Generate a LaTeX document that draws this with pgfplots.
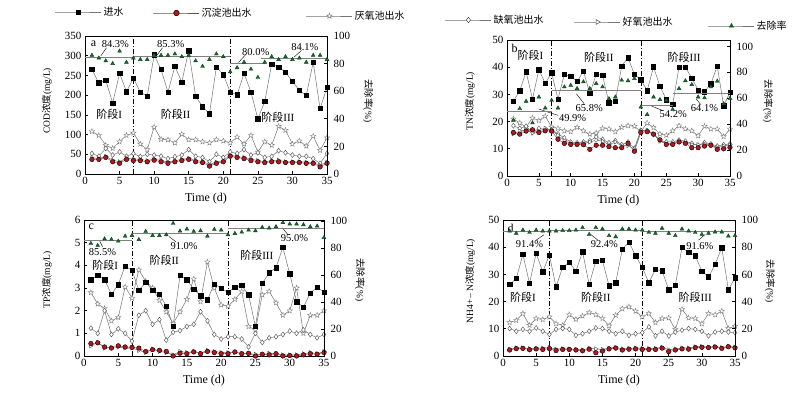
\documentclass[border=0pt]{standalone}
\usepackage{pgfplots}
\pgfplotsset{compat=1.18}
\usepackage{pgfplotstable}
\usepackage{fontspec}
\setmainfont{Liberation Serif}
\newfontfamily\cjk{Noto Sans CJK SC}

\pgfdeclareplotmark{ostar}{%
  \pgfpathmoveto{\pgfpointpolar{90}{\pgfplotmarksize}}%
  \pgfpathlineto{\pgfpointpolar{126}{0.42\pgfplotmarksize}}%
  \pgfpathlineto{\pgfpointpolar{162}{\pgfplotmarksize}}%
  \pgfpathlineto{\pgfpointpolar{198}{0.42\pgfplotmarksize}}%
  \pgfpathlineto{\pgfpointpolar{234}{\pgfplotmarksize}}%
  \pgfpathlineto{\pgfpointpolar{270}{0.42\pgfplotmarksize}}%
  \pgfpathlineto{\pgfpointpolar{306}{\pgfplotmarksize}}%
  \pgfpathlineto{\pgfpointpolar{342}{0.42\pgfplotmarksize}}%
  \pgfpathlineto{\pgfpointpolar{18}{\pgfplotmarksize}}%
  \pgfpathlineto{\pgfpointpolar{54}{0.42\pgfplotmarksize}}%
  \pgfpathclose
  \pgfusepathqfillstroke
}

\definecolor{lgray}{gray}{0.45}
\definecolor{dred}{RGB}{185,20,30}
\definecolor{dgreen}{RGB}{20,110,40}

\tikzset{
  ptr/.style={black, line width=0.4pt},
  tnote/.style={font=\fontsize{11}{12}\selectfont},
  pnote/.style={font=\fontsize{10.5}{11}\selectfont},
}

\pgfplotsset{
  infS/.style={lgray, line width=0.5pt, mark=square*, mark size=2.2pt, mark options={solid, black, fill=black}, forget plot},
  sedS/.style={lgray, line width=0.5pt, mark=*, mark size=2.3pt, mark options={solid, draw=black, fill=dred, line width=0.4pt}, forget plot},
  anaS/.style={lgray, line width=0.5pt, mark=ostar, mark size=2.8pt, mark options={solid, draw=gray, fill=white, line width=0.4pt}, forget plot},
  anxS/.style={lgray, line width=0.5pt, mark=diamond*, mark size=2.5pt, mark options={solid, draw=black!70, fill=white, line width=0.4pt}, forget plot},
  aerS/.style={lgray, line width=0.5pt, mark=triangle*, mark size=2.4pt, mark options={solid, rotate=-90, draw=black!70, fill=white, line width=0.4pt}, forget plot},
  remS/.style={only marks, mark=triangle*, mark size=2.2pt, mark options={draw=dgreen!60!black, fill=dgreen}, forget plot},
  avgS/.style={gray, line width=0.8pt, forget plot},
  vS/.style={black, line width=0.6pt, dash pattern=on 5pt off 2pt on 1pt off 2pt, forget plot},
  base/.style={scale only axis, xmin=0, xmax=35, anchor=south west, clip=false,
    tick align=inside, major tick length=3pt,
    axis line style={line width=0.8pt},
    every tick/.style={black, line width=0.6pt},
    tick label style={font=\fontsize{11}{12}\selectfont},
    /pgf/number format/assume math mode=true},
  leftax/.style={base, xtick={0,5,...,35}, xtick pos=left, ytick pos=left,
    xlabel={Time (d)}, xlabel style={font=\fontsize{12}{13}\selectfont, yshift=-1pt},
    ylabel style={font=\fontsize{9.5}{10}\selectfont, anchor=center, rotate=0}},
  rightax/.style={base, axis x line=none, axis y line*=right, ytick={0,20,...,100}, ymin=0,
    yticklabel style={xshift=3pt},
    ylabel={{\cjk 去除率}(\%)}, ylabel style={font=\fontsize{9.5}{10}\selectfont, anchor=center, rotate=180}},
}

\newcommand{\legitem}[4]{%
\begin{axis}[hide axis, scale only axis, width=4pt, height=4pt, xmin=0, xmax=1, ymin=0, ymax=1,
  at={(#1,#2)}, anchor=west,
  legend style={at={(0,0.5)}, anchor=west, draw=none, fill=none, inner sep=0pt,
    font=\cjk\fontsize{10}{12}\selectfont},
  legend image code/.code={\draw[mark repeat=2,mark phase=2,##1] plot coordinates {(0pt,0pt) (23pt,0pt) (46pt,0pt)};}]
\addlegendimage{#3}
\addlegendentry{#4}
\end{axis}}

\pgfplotstableread{
d inf sed ana anx aer rem
1 265 37 108 52 41 86
2 231 37 98 45 39 84
3 238 42 73 65 45 82
4 180 31 65 48 35 80
5 255 27 82 56 31 89
6 209 37 98 45 40 81
7 243 34 104 52 38 84
8 208 34 76 44 37 83
9 197 31 62 50 34 83
10 302 35 119 48 38 86
11 265 31 88 45 34 86
12 208 27 87 39 30 86
13 273 31 79 44 34 87
14 233 34 101 48 37 85
15 313 37 87 62 40 86
16 197 31 87 45 34 82
17 171 29 82 42 32 78
18 153 20 79 31 24 83
19 271 27 87 50 30 87
20 252 31 84 42 34 85
21 208 45 79 56 48 74
22 201 42 94 52 44 77
23 255 39 76 62 42 81
24 208 34 98 48 38 76
25 140 31 56 54 34 70
26 184 29 82 42 31 81
27 279 31 73 45 34 85
28 271 31 121 59 35 83
29 258 29 111 54 31 85
30 235 29 76 48 31 83
31 212 29 84 45 31 84
32 199 27 71 45 30 81
33 283 27 96 39 29 86
34 166 18 60 27 22 86
35 220 27 92 52 30 83
}\tabA

\pgfplotstableread{
d inf sed ana anx aer rem
1 27.5 16 21 18.5 15.5 43
2 31.3 15.4 19.5 17.5 16.5 52
3 38.3 16.5 18 18.3 17 57.7
4 28.3 17 21.3 16 15.8 41
5 39.1 16 20.4 17.5 16.5 61
6 34.1 16.6 22 17.2 17.5 52.5
7 37.9 16.5 18 17 16.8 58.4
8 28.3 13.5 17.5 15.5 15 52.5
9 37.3 12 16.6 14 13 68.8
10 36.6 11.6 16.3 12.5 12 70
11 34.8 11.6 17.9 12.2 11.8 67.5
12 38.5 11.5 16.6 12.5 12 72.7
13 30.4 9.8 15.4 13 12.5 67.5
14 37.3 11.3 15.8 14.3 13.2 71.4
15 37.0 11.3 17.5 13.5 12.8 68.8
16 26.9 10.8 17.3 12.2 11.5 59.7
17 27.5 10.4 16.3 13 12.5 61
18 40.4 10.4 17.9 11.5 11 74
19 43.5 12 18.5 12.5 11.2 73.5
20 37.3 9.1 18.3 10.2 9.8 75.3
21 35.4 16 16.3 16.8 16.5 53.2
22 31.4 16.3 19.5 16.6 16.8 47.5
23 40.1 15.4 17.8 15.2 15.5 61
24 33 13.3 15.4 13 12.8 59
25 28.1 11.6 15 12.5 11.8 58.4
26 26.3 11.6 16.6 12.5 12 51.4
27 40 12.5 18.5 13.2 12.8 67.5
28 40 12 17.3 12.8 12.2 73.5
29 36 10.4 16.6 12 11.5 70.6
30 31.6 10.4 14.8 11.3 11.5 61
31 31 11 18.3 12.3 11.8 60.3
32 33.9 11.3 17.3 11.8 11.3 68.8
33 40.4 9.8 17.3 11 10.5 73.2
34 25.8 10 14.5 11.5 11 55.8
35 30.8 10.5 17.3 11.8 11.5 60
}\tabB

\pgfplotstableread{
d inf sed ana anx aer rem
1 3.37 0.55 2.8 1.23 0.45 83.6
2 3.55 0.58 2.3 1.0 0.6 82.1
3 3.37 0.4 2.1 2.0 0.35 87
4 2.73 0.35 1.55 0.95 0.38 86.6
5 3.15 0.45 1.7 1.2 0.4 85.3
6 3.97 0.4 3.05 1.0 0.35 89
7 3.78 0.38 2.55 0.65 0.35 89.5
8 2.9 0.35 3.8 1.8 0.25 86.5
9 3.25 0.2 3.3 2.0 0.15 92.5
10 2.9 0.28 3.0 1.4 0.3 89.5
11 2.73 0.25 2.45 1.6 0.2 89.5
12 2.2 0.2 1.95 0.7 0.15 90
13 1.32 0.0 1.43 1.05 0.05 98.5
14 3.55 0.12 1.95 1.12 0.2 92.8
15 3.37 0.1 2.5 1.3 0.15 94.3
16 2.95 0.18 3.4 1.4 0.2 92.5
17 2.65 0.1 2.4 1.95 0.12 93
18 2.48 0.2 4.15 1.55 0.25 89
19 3.17 0.15 3.0 0.95 0.2 94
20 3.0 0.1 2.25 0.75 0.15 93.5
21 2.8 0.1 2.2 0.85 0.15 90
22 3.04 0.18 2.5 0.85 0.15 91
23 3.11 0.1 2.85 0.75 0.12 92
24 2.7 0.12 1.3 0.4 0.1 93.5
25 1.3 0.0 1.15 1.0 0.08 93
26 3.2 0.08 2.7 0.6 0.05 95.5
27 3.67 0.05 2.85 0.8 0.12 95
28 3.9 0.1 2.35 0.85 0.1 96
29 4.79 0.0 1.8 0.95 0.05 99
30 3.63 0.02 2.0 1.1 0.05 98
31 2.4 0.0 3.0 1.0 0.05 98
32 2.15 0.05 1.0 1.15 0.1 97.5
33 2.78 0.1 1.8 0.95 0.15 96
34 3.04 0.08 1.8 0.8 0.1 96.5
35 2.81 0.15 2.0 0.95 0.2 88
}\tabC

\pgfplotstableread{
d inf sed ana anx aer rem
1 26.3 2.2 12.3 10.1 2.5 91.9
2 28.5 2.7 13.1 9.1 3.0 90.2
3 37.3 2.8 15.6 9.8 3.0 92.6
4 26.7 2.3 11.3 9.1 2.7 90.9
5 37.7 2.6 13.8 10.3 2.9 92.6
6 31 2.4 13.4 9.1 2.9 91.9
7 37.1 2.7 14.4 7.9 3.1 91.9
8 25.4 2.0 11.9 9.8 2.5 91.9
9 32.7 2.4 11.3 10.1 2.7 92.2
10 34.4 2.4 15.2 9.8 2.6 92.2
11 31.2 2.2 13.5 7.6 2.5 92.6
12 38.3 1.9 14.7 8.2 2.2 94.4
13 26.3 2.5 16 9.1 2.9 89.4
14 34.9 1.2 15.2 10.3 2.6 94.4
15 35.1 1.8 13.8 10.1 2.4 93.4
16 25.8 2.6 11.1 9.1 2.9 88.5
17 26.9 2.9 15 8.2 3.2 87.7
18 39.3 2.2 17.4 9.1 2.6 93.4
19 41.8 2.5 18.1 7.6 2.8 93.4
20 36.9 2.6 16.5 8.2 2.9 92.6
21 32.6 2.4 14.4 8.6 2.8 92.6
22 27 2.4 15.6 10.7 2.7 90.9
23 31.9 2.4 12.3 7.4 2.8 90.2
24 31.3 2.9 13.8 9.1 3.2 93.9
25 24.4 1.6 14 7.4 2.3 90.2
26 26 2.2 9.8 8.8 2.6 88.5
27 39.9 2.6 17.2 9.5 3.0 93.4
28 38.1 2.5 14 10.1 2.9 91.9
29 36.9 3.1 13.8 9.8 3.4 90.9
30 31.2 3.2 11.9 9.1 3.5 89.4
31 29.1 3.1 15.6 7.4 3.3 90.2
32 33.7 3.3 15.2 8.8 3.5 91.2
33 39.8 2.8 16.5 9.1 3.1 91.2
34 24.4 3.4 10.1 8.8 3.6 88.2
35 28.7 3.0 11 8.6 3.3 88.5
}\tabD

\newcommand{\series}[1]{%
  \addplot[anaS] table[x=d,y=ana]{#1};
  \addplot[anxS] table[x=d,y=anx]{#1};
  \addplot[aerS] table[x=d,y=aer]{#1};
  \addplot[sedS] table[x=d,y=sed]{#1};
  \addplot[infS] table[x=d,y=inf]{#1};
}
\newcommand{\jd}[1]{{\cjk 阶段}#1}

\begin{document}
\begin{tikzpicture}
\path[use as bounding box] (0,0) rectangle (800pt,396pt);

% ---------- legend ----------
\legitem{55pt}{384pt}{lgray, line width=0.5pt, mark=square*, mark size=2.2pt, mark options={solid, black, fill=black}}{进水}
\legitem{153pt}{383pt}{dred!70!gray, line width=0.5pt, mark=*, mark size=2.8pt, mark options={solid, draw=black, fill=dred}}{沉淀池出水}
\legitem{306pt}{380pt}{lgray, line width=0.5pt, mark=ostar, mark size=2.8pt, mark options={solid, draw=gray, fill=white}}{厌氧池出水}
\legitem{445pt}{376pt}{lgray, line width=0.5pt, mark=diamond*, mark size=2.8pt, mark options={solid, draw=black!70, fill=white}}{缺氧池出水}
\legitem{574pt}{374pt}{lgray, line width=0.5pt, mark=triangle*, mark size=2.8pt, mark options={solid, rotate=-90, draw=black!70, fill=white}}{好氧池出水}
\legitem{708pt}{370pt}{lgray, line width=0.5pt, mark=triangle*, mark size=2.4pt, mark options={solid, draw=dgreen!60!black, fill=dgreen}}{去除率}

% ---------- panel a ----------
\begin{axis}[leftax, at={(85pt,222pt)}, width=242pt, height=138pt,
  ymin=0, ymax=350, ytick={0,50,...,350},
  ylabel={COD{\cjk 浓度}(mg/L)}, ylabel style={at={(axis description cs:-0.157,0.53)}}]
  \addplot[vS] coordinates {(7,0) (7,350)};
  \addplot[vS] coordinates {(21,0) (21,350)};
  \series{\tabA}
  \node[anchor=north west, font=\fontsize{12}{12}\selectfont] at (axis description cs:0.01,0.99) {a};
  \node[pnote] at (axis cs:4.4,330) {84.3\%};
  \node[pnote] at (axis cs:12.4,330) {85.3\%};
  \node[pnote] at (axis cs:24.7,308) {80.0\%};
  \node[pnote] at (axis cs:31.8,323) {84.1\%};
  \draw[ptr] (axis cs:3.1,320) -- (axis cs:2.3,300);
  \draw[ptr] (axis cs:11.2,320) -- (axis cs:10.4,301);
  \draw[ptr] (axis cs:23.2,302) -- (axis cs:22.2,283);
  \draw[ptr] (axis cs:31.3,313) -- (axis cs:30.2,296);
  \node[tnote] at (axis cs:3.5,151) {\jd{I}};
  \node[tnote] at (axis cs:13.1,151) {\jd{II}};
  \node[tnote] at (axis cs:27.9,143) {\jd{III}};
\end{axis}
\begin{axis}[rightax, at={(85pt,222pt)}, width=242pt, height=138pt, ymax=100,
  ylabel style={at={(axis description cs:1.17,0.53)}}]
  \addplot[remS] table[x=d,y=rem]{\tabA};
  \addplot[avgS] coordinates {(0,84.3) (7,84.3)};
  \addplot[avgS] coordinates {(7,85.3) (21,85.3)};
  \addplot[avgS] coordinates {(21,80.0) (26,80.0)};
  \addplot[avgS] coordinates {(25.5,84.1) (35,84.1)};
\end{axis}

% ---------- panel b ----------
\begin{axis}[leftax, at={(507pt,220pt)}, width=223pt, height=136pt,
  ymin=0, ymax=50, ytick={0,10,...,50},
  ylabel={TN{\cjk 浓度}(mg/L)}, ylabel style={at={(axis description cs:-0.166,0.55)}}]
  \addplot[vS] coordinates {(7,0) (7,50)};
  \addplot[vS] coordinates {(21,0) (21,50)};
  \series{\tabB}
  \node[anchor=north west, font=\fontsize{12}{12}\selectfont] at (axis description cs:0.005,0.995) {b};
  \node[tnote] at (axis cs:3.7,44.4) {\jd{I}};
  \node[tnote] at (axis cs:14.4,43.8) {\jd{II}};
  \node[tnote] at (axis cs:27.8,43.8) {\jd{III}};
  \node[pnote] at (axis cs:10.3,21.3) {49.9\%};
  \node[pnote] at (axis cs:12.9,25) {65.8\%};
  \node[pnote] at (axis cs:26.1,22.9) {54.2\%};
  \node[pnote] at (axis cs:31.0,25) {64.1\%};
  \draw[ptr] (axis cs:8.0,22.3) -- (axis cs:5.0,24.6);
  \draw[ptr] (axis cs:12.1,26.6) -- (axis cs:10.9,30.2);
  \draw[ptr] (axis cs:24.4,24.1) -- (axis cs:22.6,25.8);
  \draw[ptr] (axis cs:30.4,26.3) -- (axis cs:29.7,28.3);
\end{axis}
\begin{axis}[rightax, at={(507pt,220pt)}, width=223pt, height=136pt, ymax=105,
  ylabel style={at={(axis description cs:1.17,0.55)}}]
  \addplot[remS] table[x=d,y=rem]{\tabB};
  \addplot[avgS] coordinates {(0,49.9) (7,49.9)};
  \addplot[avgS] coordinates {(7,65.8) (21,65.8)};
  \addplot[avgS] coordinates {(21,54.2) (26,54.2)};
  \addplot[avgS] coordinates {(26,64.1) (35,64.1)};
\end{axis}

% ---------- panel c ----------
\begin{axis}[leftax, at={(84pt,40pt)}, width=240pt, height=136pt,
  ymin=0, ymax=6, ytick={0,1,...,6},
  ylabel={TP{\cjk 浓度}(mg/L)}, ylabel style={at={(axis description cs:-0.155,0.56)}}]
  \addplot[vS] coordinates {(7,0) (7,6)};
  \addplot[vS] coordinates {(21,0) (21,6)};
  \series{\tabC}
  \node[anchor=north west, font=\fontsize{12}{12}\selectfont] at (axis description cs:0.005,0.995) {c};
  \node[pnote] at (axis cs:2.7,4.57) {85.5\%};
  \node[pnote] at (axis cs:14.6,4.87) {91.0\%};
  \node[pnote] at (axis cs:30.7,5.19) {95.0\%};
  \draw[ptr] (axis cs:2.7,4.82) -- (axis cs:2.3,5.07);
  \draw[ptr] (axis cs:13.4,5.04) -- (axis cs:12.4,5.27);
  \draw[ptr] (axis cs:29.7,5.37) -- (axis cs:28.9,5.66);
  \node[tnote] at (axis cs:3.1,4.0) {\jd{I}};
  \node[tnote] at (axis cs:11.7,4.23) {\jd{II}};
  \node[tnote] at (axis cs:25.2,4.45) {\jd{III}};
\end{axis}
\begin{axis}[rightax, at={(84pt,40pt)}, width=240pt, height=136pt, ymax=101,
  ylabel style={at={(axis description cs:1.15,0.56)}}]
  \addplot[remS] table[x=d,y=rem]{\tabC};
  \addplot[avgS] coordinates {(0,85.5) (7,85.5)};
  \addplot[avgS] coordinates {(7,91.0) (21,91.0)};
  \addplot[avgS] coordinates {(21,95.0) (35,95.0)};
\end{axis}

% ---------- panel d ----------
\begin{axis}[leftax, at={(503pt,40pt)}, width=232pt, height=136pt,
  ymin=0, ymax=50, ytick={0,10,...,50},
  ylabel={NH4+\,--\,N{\cjk 浓度}(mg/L)}, ylabel style={at={(axis description cs:-0.142,0.55)}}]
  \addplot[vS] coordinates {(7,0) (7,50)};
  \addplot[vS] coordinates {(21,0) (21,50)};
  \series{\tabD}
  \node[anchor=north west, font=\fontsize{12}{12}\selectfont] at (axis description cs:0.005,0.995) {d};
  \node[pnote] at (axis cs:4.0,41) {91.4\%};
  \node[pnote] at (axis cs:15.3,41) {92.4\%};
  \node[pnote] at (axis cs:29.7,40.5) {91.6\%};
  \draw[ptr] (axis cs:5.0,42.6) -- (axis cs:6.2,44.6);
  \draw[ptr] (axis cs:14.3,42.6) -- (axis cs:13.3,44.6);
  \draw[ptr] (axis cs:29.5,42.6) -- (axis cs:30.5,44.7);
  \node[tnote] at (axis cs:3.0,21.7) {\jd{I}};
  \node[tnote] at (axis cs:14.0,21.7) {\jd{II}};
  \node[tnote] at (axis cs:29.0,21.7) {\jd{III}};
\end{axis}
\begin{axis}[rightax, at={(503pt,40pt)}, width=232pt, height=136pt, ymax=100,
  ylabel style={at={(axis description cs:1.15,0.55)}}]
  \addplot[remS] table[x=d,y=rem]{\tabD};
  \addplot[avgS] coordinates {(0,91.4) (7,91.4)};
  \addplot[avgS] coordinates {(7,92.4) (21,92.4)};
  \addplot[avgS] coordinates {(21,91.6) (35,91.6)};
\end{axis}
\end{tikzpicture}
\end{document}
